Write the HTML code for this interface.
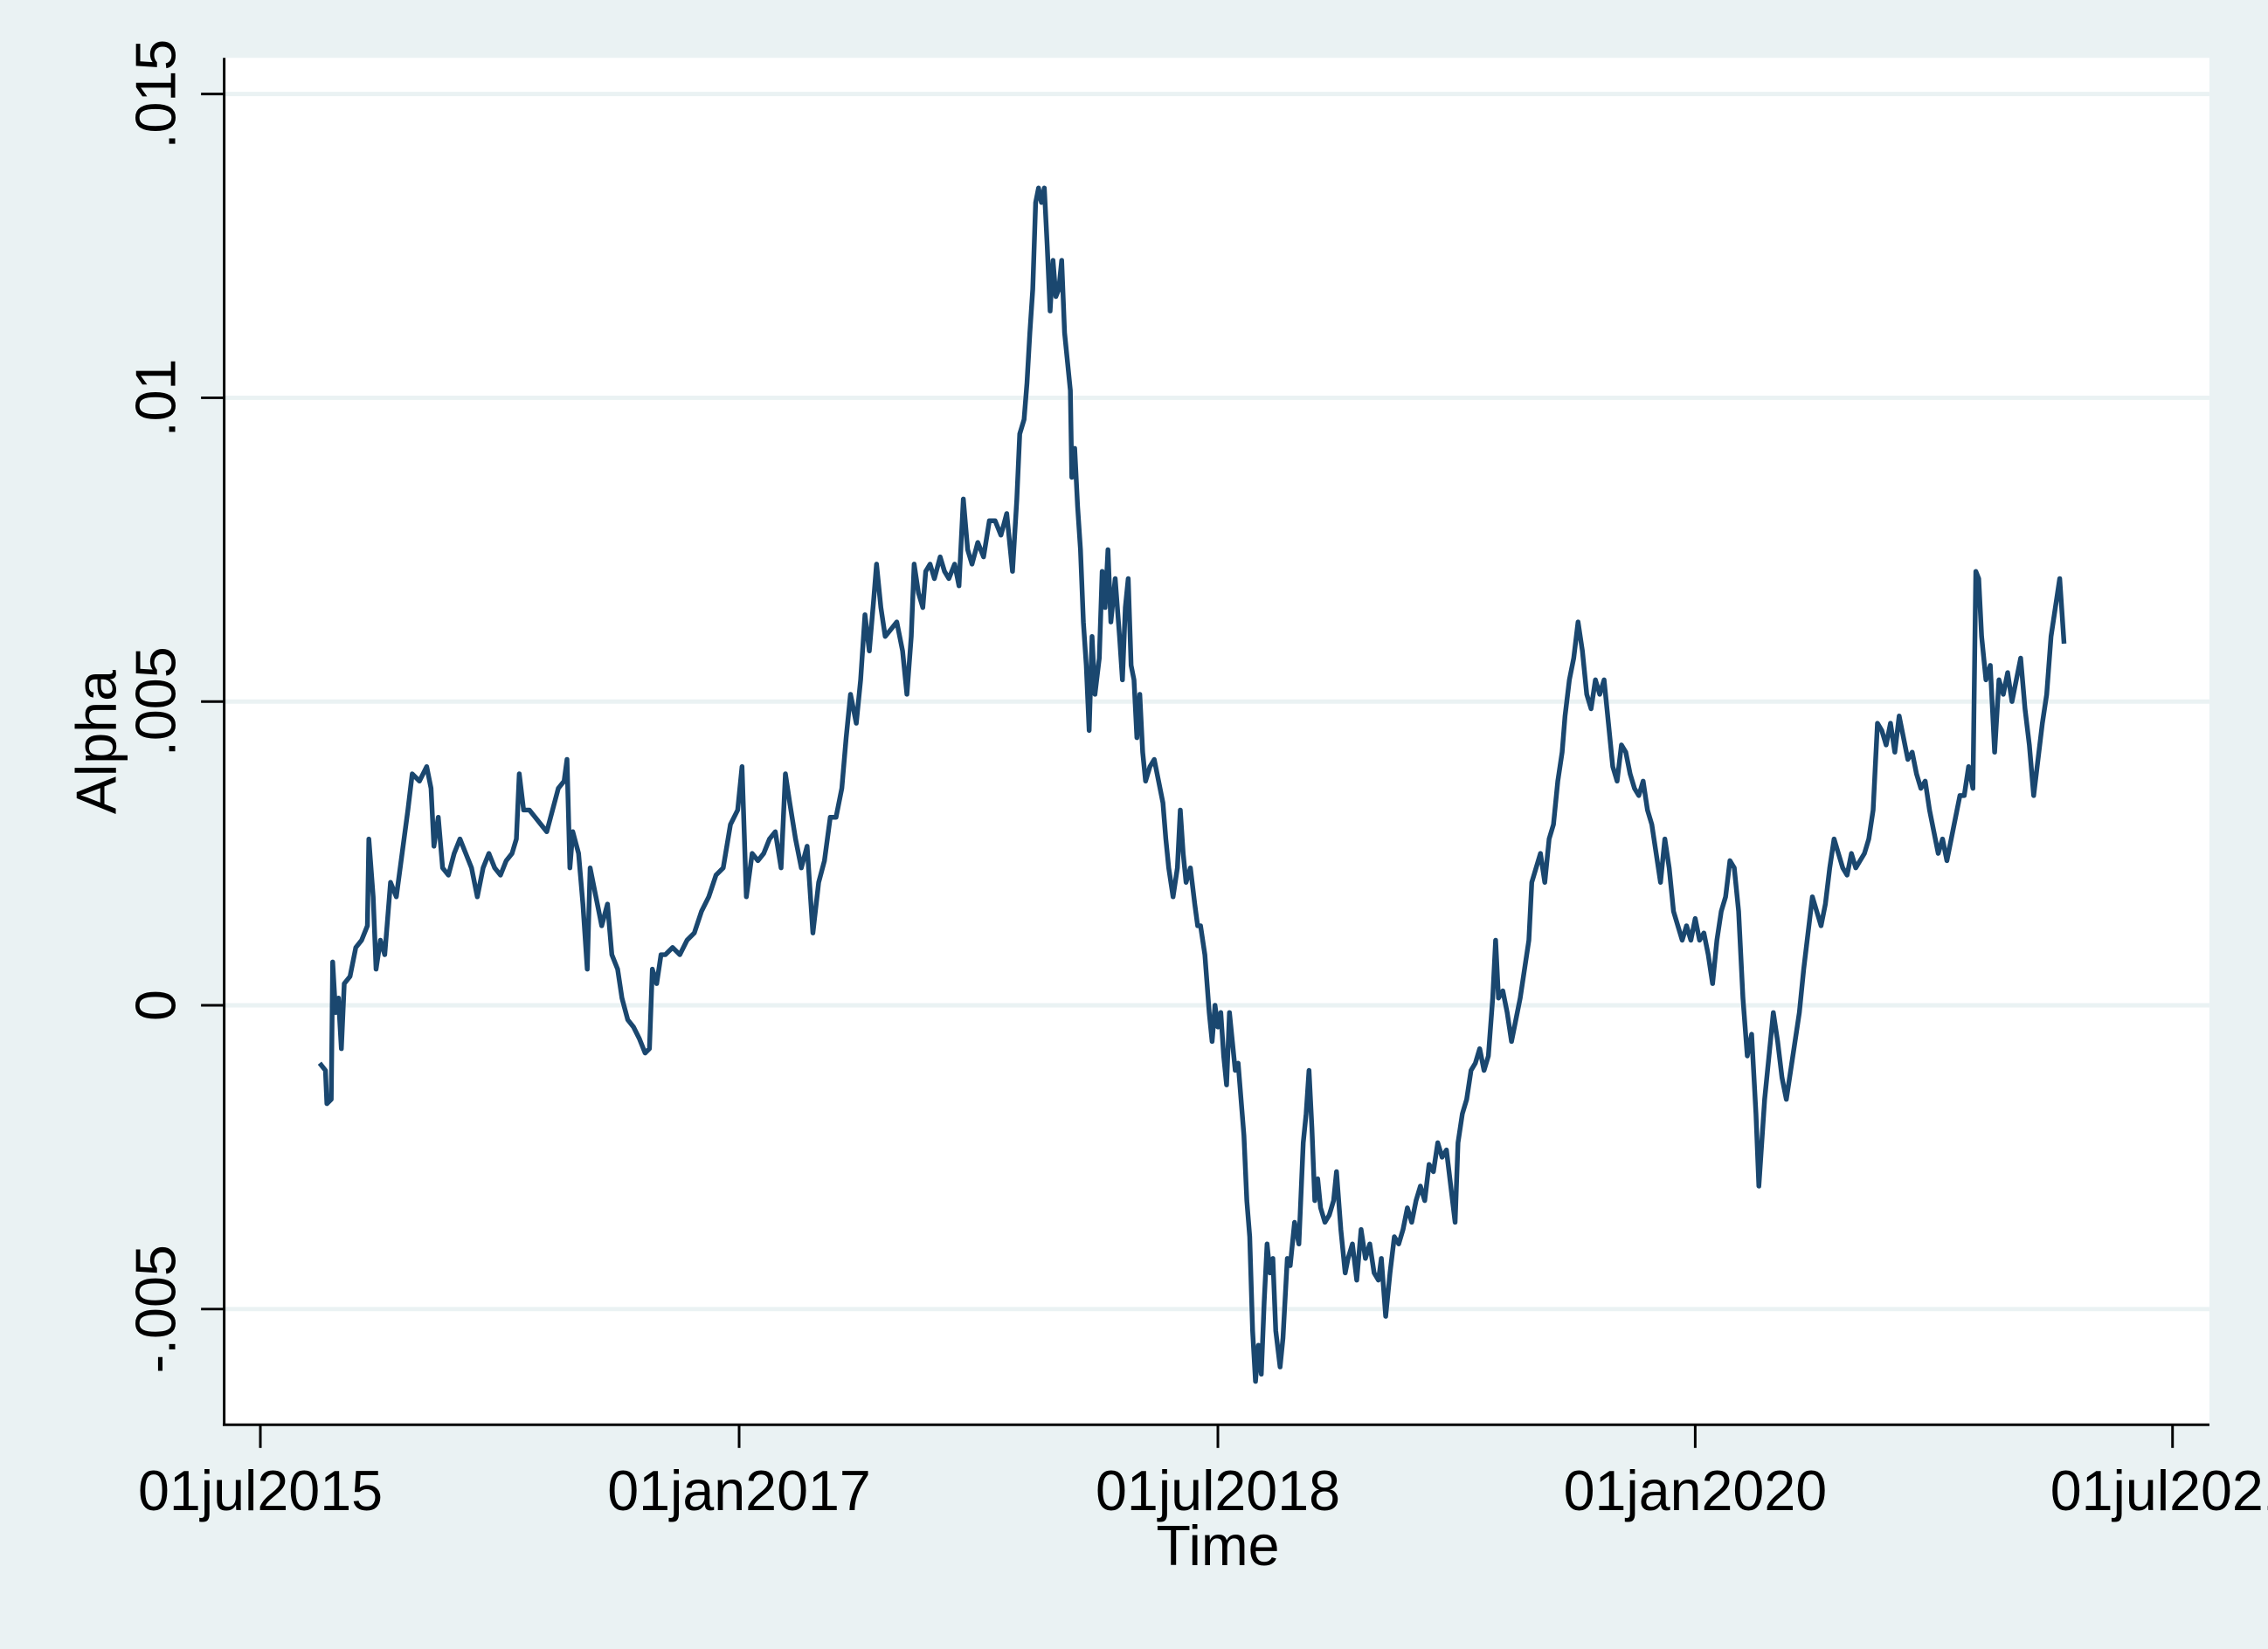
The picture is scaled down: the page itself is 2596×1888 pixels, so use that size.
<!DOCTYPE html>
<html><head><meta charset="utf-8"><style>
html,body{margin:0;padding:0;background:#eaf2f3;}
svg{display:block;}
text{font-family:"Liberation Sans",Arial,sans-serif;fill:#000;}
</style></head><body>
<svg width="2596" height="1888" viewBox="0 0 1568 1140" preserveAspectRatio="none" xmlns="http://www.w3.org/2000/svg">
<rect x="0" y="0" width="1568" height="1140" fill="#eaf2f3"/>
<rect x="155" y="40" width="1372.5" height="944.5" fill="#fff"/>
<g stroke="#eaf2f3" stroke-width="3">
<line x1="155" x2="1527.5" y1="65" y2="65"/>
<line x1="155" x2="1527.5" y1="275" y2="275"/>
<line x1="155" x2="1527.5" y1="485" y2="485"/>
<line x1="155" x2="1527.5" y1="695" y2="695"/>
<line x1="155" x2="1527.5" y1="905" y2="905"/>
</g>
<polyline fill="none" stroke="#1a476f" stroke-width="3.3" stroke-linejoin="round" points="221,735 225,740 226,763 229,760 230,665 232,700 234,690 236,725 238,680 242,675 246,655 250,650 254,640 255,580 258,620 260,670 263,650 266,660 268,635 270,610 274,620 278,590 282,560 285,535 290,540 295,530 298,545 300,585 303,565 306,600 310,605 314,590 318,580 322,590 326,600 330,620 334,600 338,590 342,600 346,605 350,595 354,590 357,580 359,535 362,560 366,560 370,565 374,570 378,575 382,560 386,545 390,540 392,525 394,600 396,575 400,590 403,625 406,670 408,600 412,620 416,640 420,625 423,660 427,670 430,690 434,705 438,710 442,718 446,728 449,725 451,670 454,680 457,660 460,660 465,655 470,660 475,650 480,645 485,630 490,620 495,605 500,600 505,570 510,560 513,530 516,620 520,590 524,595 528,590 532,580 536,575 540,600 543,535 546,555 550,580 554,600 558,585 562,645 566,610 570,595 574,565 578,565 582,545 585,510 588,480 592,500 595,470 598,425 601,450 604,415 606,390 609,420 612,440 616,435 620,430 624,450 627,480 630,440 632,390 635,410 638,420 640,395 643,390 646,400 650,385 653,395 656,400 660,390 663,405 666,345 669,380 672,390 676,375 680,385 684,360 688,360 692,370 696,355 700,395 703,345 705,300 708,290 710,265 712,230 714,200 716,140 718,130 720,140 722,130 724,170 726,215 728,180 730,205 732,200 734,180 736,230 738,250 740,270 741,330 743,310 745,350 747,380 749,430 751,460 753,505 755,440 757,480 760,455 762,395 764,420 766,380 768,430 771,400 774,440 776,470 778,420 780,400 782,460 784,470 786,510 788,480 790,520 792,540 795,530 798,525 801,540 804,555 806,580 808,600 811,620 814,600 816,560 818,590 820,610 823,600 826,625 828,640 830,640 833,660 836,700 838,720 840,695 842,710 844,700 846,730 848,750 850,700 852,720 854,740 856,735 858,760 860,785 862,830 864,855 866,920 868,955 870,930 872,950 874,900 876,860 878,880 880,870 882,920 885,945 887,925 890,870 892,875 895,845 898,860 901,790 903,770 905,740 907,780 909,830 911,815 913,835 916,845 919,840 922,830 924,810 927,850 930,880 932,870 935,860 938,885 941,850 944,870 947,860 950,880 953,885 955,870 958,910 961,880 964,855 967,860 970,850 973,835 976,845 979,830 982,820 985,830 988,805 991,810 994,790 997,800 1000,795 1003,820 1006,845 1008,790 1011,770 1014,760 1017,740 1020,735 1023,725 1026,740 1029,730 1032,690 1034,650 1036,690 1039,685 1042,700 1045,720 1048,705 1051,690 1054,670 1057,650 1059,610 1062,600 1065,590 1068,610 1071,580 1074,570 1077,540 1080,520 1082,495 1085,470 1088,455 1091,430 1094,450 1097,480 1100,490 1103,470 1106,480 1109,470 1112,500 1115,530 1118,540 1121,515 1124,520 1127,535 1130,545 1133,550 1136,540 1139,560 1142,570 1145,590 1148,610 1151,580 1154,600 1157,630 1160,640 1163,650 1166,640 1169,650 1172,635 1175,650 1178,645 1181,660 1184,680 1187,650 1190,630 1193,620 1196,595 1199,600 1202,630 1205,690 1208,730 1211,715 1214,770 1216,820 1218,790 1220,760 1223,730 1226,700 1229,720 1232,745 1235,760 1238,740 1241,720 1244,700 1247,670 1250,645 1253,620 1256,630 1259,640 1262,625 1265,600 1268,580 1271,590 1274,600 1277,605 1280,590 1283,600 1286,595 1289,590 1292,580 1295,560 1298,500 1301,505 1304,515 1307,500 1310,520 1313,495 1316,510 1319,525 1322,520 1325,535 1328,545 1331,540 1334,560 1337,575 1340,590 1343,580 1346,595 1349,580 1352,565 1355,550 1358,550 1361,530 1364,545 1366,395 1368,400 1370,440 1373,470 1376,460 1379,520 1382,470 1385,480 1388,465 1391,485 1394,470 1397,455 1400,490 1403,515 1406,550 1409,525 1412,500 1415,480 1418,440 1421,420 1424,400 1427,445"/>
<g stroke="#000" stroke-width="1.8" fill="none">
<line x1="155" y1="40" x2="155" y2="985"/>
<line x1="154" y1="985" x2="1527.5" y2="985"/>
<line x1="139" x2="155" y1="65" y2="65"/>
<line x1="139" x2="155" y1="275" y2="275"/>
<line x1="139" x2="155" y1="485" y2="485"/>
<line x1="139" x2="155" y1="695" y2="695"/>
<line x1="139" x2="155" y1="905" y2="905"/>
<line x1="180" x2="180" y1="985" y2="1001"/>
<line x1="511" x2="511" y1="985" y2="1001"/>
<line x1="842" x2="842" y1="985" y2="1001"/>
<line x1="1172" x2="1172" y1="985" y2="1001"/>
<line x1="1502" x2="1502" y1="985" y2="1001"/>
</g>
<g font-size="39" text-anchor="middle">
<text transform="translate(121,65) rotate(-90)">.015</text>
<text transform="translate(121,275) rotate(-90)">.01</text>
<text transform="translate(121,485) rotate(-90)">.005</text>
<text transform="translate(121,695) rotate(-90)">0</text>
<text transform="translate(121,905) rotate(-90)">-.005</text>
<text transform="translate(80,513) rotate(-90)">Alpha</text>
<text x="180" y="1044">01jul2015</text>
<text x="511" y="1044">01jan2017</text>
<text x="842" y="1044">01jul2018</text>
<text x="1172" y="1044">01jan2020</text>
<text x="1502" y="1044">01jul2021</text>
<text x="842" y="1082">Time</text>
</g>
</svg>
</body></html>
